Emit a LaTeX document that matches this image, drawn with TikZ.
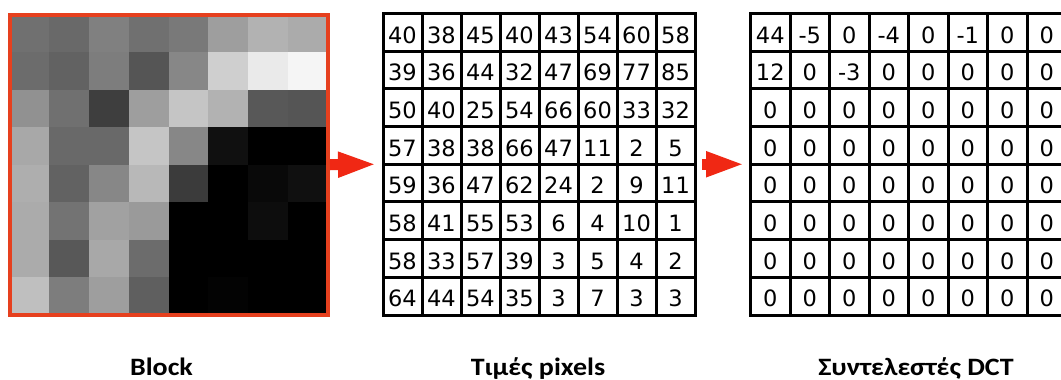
\documentclass[tikz,border=0pt]{standalone}
\usepackage{fontspec}
\usepackage{graphicx}
\setmainfont{DejaVu Sans}
\newfontfamily\numfam{DejaVu Sans}
\newfontfamily\labfam{Carlito}
\newcommand\mynumfont{\numfam\fontsize{22.5}{24}\selectfont}
\newcommand\mylabfont{\labfam\bfseries\fontsize{25}{28}\selectfont}
\usetikzlibrary{arrows.meta}
\definecolor{framered}{RGB}{230,64,30}
\definecolor{arrowred}{RGB}{240,40,20}
\begin{document}
\begin{tikzpicture}[x=1pt,y=-1pt,
  gridline/.style={line width=3pt, line cap=rect, draw=black},
  num/.style={font=\mynumfont, inner sep=0pt, anchor=base},
  lab/.style={font=\mylabfont, inner sep=0pt, anchor=base},
  panel/.style={inner sep=0pt, outer sep=0pt},
  redarrow/.style={line width=11pt, draw=arrowred, -{Triangle[length=39pt,width=23pt]}}]
\useasboundingbox (0,0) rectangle (1061,380);
\fill[white] (0,0) rectangle (1061,380);
\clip (0,0) rectangle (1061,380);

% ---------- Block (pixel image) ----------
\foreach \row [count=\r from 0] in {
  {40,38,45,40,43,54,60,58},
  {39,36,44,32,47,69,77,85},
  {50,40,25,54,66,60,33,32},
  {57,38,38,66,47,11,2,5},
  {59,36,47,62,24,2,9,11},
  {58,41,55,53,6,4,10,1},
  {58,33,57,39,3,5,4,2},
  {64,44,54,35,3,7,3,3}} {
  \foreach \v [count=\c from 0] in \row {
    \pgfmathtruncatemacro\g{max(0,min(245,3.3*\v-20))}
    \definecolor{cellc}{RGB}{\g,\g,\g}
    \fill[cellc] (9.5+39.75*\c,14.5+37.56*\r) rectangle (9.5+39.75*\c+39.9,14.5+37.56*\r+37.7);
  }
}
\node[panel, draw=framered, line width=4pt, minimum width=318pt, minimum height=300.5pt] (block) at (168.5,164.75) {};

% ---------- Pixel values table ----------
\node[panel, minimum width=312pt, minimum height=301.5pt] (pix) at (539,164.25) {};
\foreach \i in {0,...,8} {
  \draw[gridline] (383+39*\i,13.5) -- (383+39*\i,315);
  \draw[gridline] (383,13.5+37.69*\i) -- (695,13.5+37.69*\i);
}
\foreach \row [count=\r from 0] in {
  {40,38,45,40,43,54,60,58},
  {39,36,44,32,47,69,77,85},
  {50,40,25,54,66,60,33,32},
  {57,38,38,66,47,11,2,5},
  {59,36,47,62,24,2,9,11},
  {58,41,55,53,6,4,10,1},
  {58,33,57,39,3,5,4,2},
  {64,44,54,35,3,7,3,3}} {
  \foreach \v [count=\c from 0] in \row {
    \node[num] (p-\r-\c) at (383+39*\c+19.5,13.5+37.69*\r+29.5) {\v};
  }
}

% ---------- DCT coefficients table ----------
\node[panel, minimum width=316pt, minimum height=301.5pt] (dct) at (908.5,164.25) {};
\foreach \i in {0,...,8} {
  \draw[gridline] (750.5+39.5*\i,13.5) -- (750.5+39.5*\i,315);
  \draw[gridline] (750.5,13.5+37.69*\i) -- (1066.5,13.5+37.69*\i);
}
\foreach \row [count=\r from 0] in {
  {44,-5,0,-4,0,-1,0,0},
  {12,0,-3,0,0,0,0,0},
  {0,0,0,0,0,0,0,0},
  {0,0,0,0,0,0,0,0},
  {0,0,0,0,0,0,0,0},
  {0,0,0,0,0,0,0,0},
  {0,0,0,0,0,0,0,0},
  {0,0,0,0,0,0,0,0}} {
  \foreach \v [count=\c from 0] in \row {
    \node[num] (d-\r-\c) at (750.5+39.5*\c+19.75,13.5+37.69*\r+29.5) {\v};
  }
}

% ---------- Arrows ----------
\draw[redarrow] ([xshift=2.5pt]block.east) -- ([xshift=-6pt]pix.west);
\draw[redarrow] ([xshift=7pt]pix.east) -- ([xshift=-5.5pt]dct.west);

% ---------- Labels ----------
\node[lab] (lblock) at (161.5,375.5) {\scalebox{1.12}[1]{Block}};
\node[lab] (lpix) at (538,375.5) {\scalebox{1.12}[1]{Τιμές pixels}};
\node[lab] (ldct) at (916,375.5) {\scalebox{1.12}[1]{Συντελεστές DCT}};
\end{tikzpicture}
\end{document}
